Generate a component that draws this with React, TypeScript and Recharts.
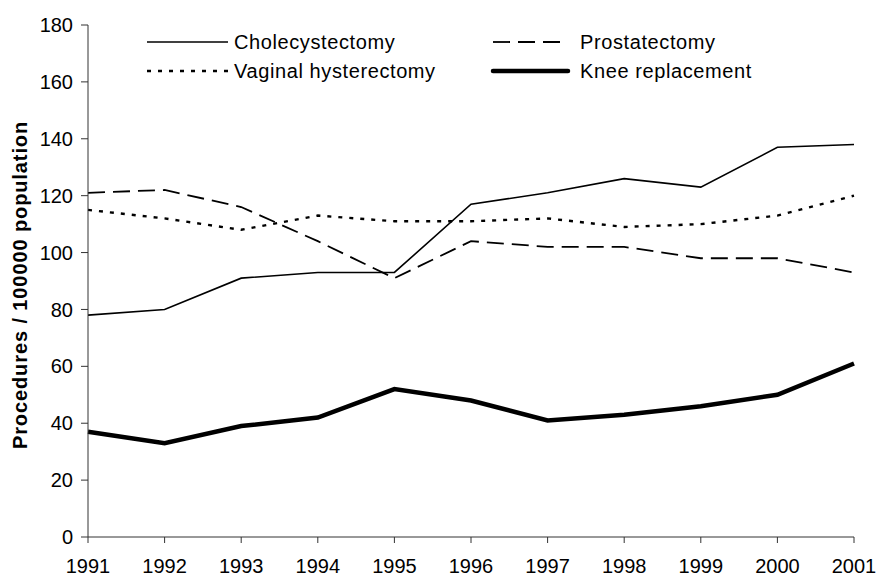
import React from 'react';
import { LineChart, Line, XAxis, YAxis } from 'recharts';

const years = ['1991', '1992', '1993', '1994', '1995', '1996', '1997', '1998', '1999', '2000', '2001'];
const cholecystectomy = [78, 80, 91, 93, 93, 117, 121, 126, 123, 137, 138];
const prostatectomy = [121, 122, 116, 104, 91, 104, 102, 102, 98, 98, 93];
const vaginalHysterectomy = [115, 112, 108, 113, 111, 111, 112, 109, 110, 113, 120];
const kneeReplacement = [37, 33, 39, 42, 52, 48, 41, 43, 46, 50, 61];
const yTicks = [0, 20, 40, 60, 80, 100, 120, 140, 160, 180];

const data = years.map((y, i) => ({
  year: y,
  chole: cholecystectomy[i],
  prost: prostatectomy[i],
  vag: vaginalHysterectomy[i],
  knee: kneeReplacement[i],
}));

const series = [
  { key: 'chole', name: 'Cholecystectomy', width: 1.6, dash: undefined as string | undefined },
  { key: 'prost', name: 'Prostatectomy', width: 1.8, dash: '17 8' },
  { key: 'vag', name: 'Vaginal hysterectomy', width: 2.4, dash: '4 7' },
  { key: 'knee', name: 'Knee replacement', width: 4.5, dash: undefined as string | undefined },
];

const FONT = 'Liberation Sans, Arial, sans-serif';

const LegendBox = () => {
  const pos = [
    { x1: 7, x2: 88, tx: 94, y: 12 },
    { x1: 353, x2: 428, tx: 440, y: 12 },
    { x1: 7, x2: 88, tx: 94, y: 41 },
    { x1: 353, x2: 428, tx: 440, y: 41 },
  ];
  return (
    <svg width={640} height={60} style={{ position: 'absolute', left: 140, top: 30, display: 'block' }}>
      {series.map((s, i) => (
        <g key={s.key}>
          <line x1={pos[i].x1} x2={pos[i].x2} y1={pos[i].y} y2={pos[i].y} stroke="#000"
            strokeWidth={s.width} strokeDasharray={s.dash} strokeLinecap={s.key === 'knee' ? 'round' : 'butt'} />
          <text x={pos[i].tx} y={pos[i].y + 7} fontFamily={FONT} fontSize={20} letterSpacing={0.6} fill="#000">{s.name}</text>
        </g>
      ))}
    </svg>
  );
};

export default function App() {
  return (
    <div style={{ position: 'absolute', left: 0, top: 0, width: 879, height: 578, background: '#fff' }}>
      <LineChart width={879} height={578} data={data} margin={{ top: 25, right: 25, bottom: 11, left: 28 }}>
        <XAxis
          dataKey="year"
          stroke="#333"
          tickSize={6}
          tickMargin={16}
          height={30}
          interval={0}
          tick={{ fill: '#000', fontSize: 20, fontFamily: FONT }}
        />
        <YAxis
          domain={[0, 180]}
          ticks={yTicks}
          stroke="#333"
          tickSize={7}
          tickMargin={8}
          width={60}
          interval={0}
          tick={{ fill: '#000', fontSize: 20, fontFamily: FONT }}
          label={{
            value: 'Procedures / 100000 population',
            angle: -90,
            position: 'insideLeft',
            dx: -13,
            dy: 4,
            style: { fontFamily: FONT, fontSize: 20, fontWeight: 'bold', letterSpacing: 0.9, fill: '#000', textAnchor: 'middle' },
          }}
        />
        {series.map((s) => (
          <Line
            key={s.key}
            dataKey={s.key}
            name={s.name}
            stroke="#000"
            strokeWidth={s.width}
            strokeDasharray={s.dash}
            dot={false}
            activeDot={false}
            isAnimationActive={false}
            type="linear"
          />
        ))}
      </LineChart>
      <LegendBox />
    </div>
  );
}
